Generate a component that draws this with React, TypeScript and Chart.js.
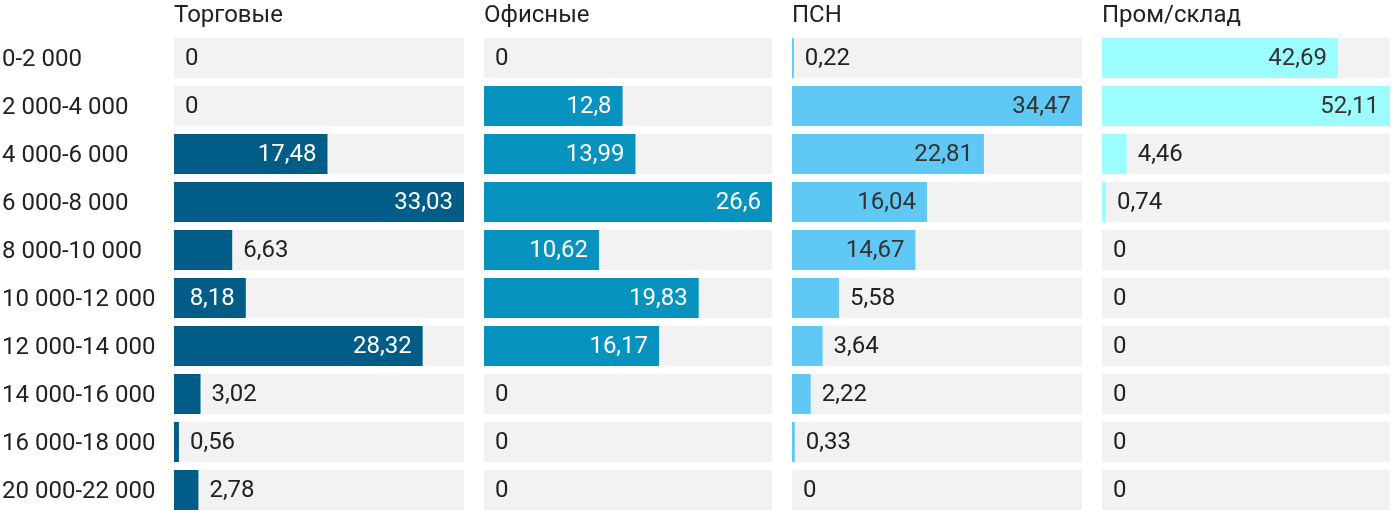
import React, { useEffect, useRef } from "react";
import { Chart, registerables } from "chart.js";

Chart.register(...registerables);

const categories = [
  "0-2 000",
  "2 000-4 000",
  "4 000-6 000",
  "6 000-8 000",
  "8 000-10 000",
  "10 000-12 000",
  "12 000-14 000",
  "14 000-16 000",
  "16 000-18 000",
  "20 000-22 000",
];

const panelTitles = ["Торговые", "Офисные", "ПСН", "Пром/склад"];

const retail = [0, 0, 17.48, 33.03, 6.63, 8.18, 28.32, 3.02, 0.56, 2.78];
const office = [0, 12.8, 13.99, 26.6, 10.62, 19.83, 16.17, 0, 0, 0];
const psn = [0.22, 34.47, 22.81, 16.04, 14.67, 5.58, 3.64, 2.22, 0.33, 0];
const industrial = [42.69, 52.11, 4.46, 0.74, 0, 0, 0, 0, 0, 0];

const panelColors = ["#015C87", "#0792BF", "#5FC8F5", "#9CFDFE"];
const insideTextColors = ["#FFFFFF", "#FFFFFF", "#333333", "#333333"];

const FONT = "Roboto, 'Noto Sans', sans-serif";
const FONT_SIZE = 24;

const valueLabels = {
  id: "valueLabels",
  afterDatasetsDraw(chart: any, _args: any, opts: any) {
    const ctx = chart.ctx;
    const meta = chart.getDatasetMeta(0);
    const data = chart.data.datasets[0].data as number[];
    const left = chart.chartArea.left;
    ctx.save();
    ctx.font = `${FONT_SIZE}px ${FONT}`;
    ctx.textBaseline = "middle";
    meta.data.forEach((bar: any, i: number) => {
      const v = data[i];
      const txt = String(v).replace(".", ",");
      const w = ctx.measureText(txt).width;
      const barW = bar.x - left;
      if (v > 0 && barW > w + 22) {
        ctx.fillStyle = opts.inside;
        ctx.textAlign = "right";
        ctx.fillText(txt, bar.x - 11, bar.y + 1);
      } else {
        ctx.fillStyle = "#222222";
        ctx.textAlign = "left";
        ctx.fillText(txt, left + Math.max(barW, 0) + 11, bar.y + 1);
      }
    });
    ctx.restore();
  },
};

type PanelProps = {
  idx: number;
  values: number[];
  left: number;
  width: number;
  showAxis: boolean;
};

function Panel({ idx, values, left, width, showAxis }: PanelProps) {
  const ref = useRef<HTMLCanvasElement | null>(null);
  useEffect(() => {
    if (!ref.current) return;
    const max = Math.max(...values);
    const chart = new Chart(ref.current, {
      type: "bar",
      data: {
        labels: categories,
        datasets: [
          {
            data: values,
            backgroundColor: panelColors[idx],
            borderWidth: 0,
            grouped: false,
            order: 0,
            categoryPercentage: 1,
            barPercentage: 40 / 48,
          } as any,
          {
            data: values.map(() => max),
            backgroundColor: "#F2F2F2",
            borderWidth: 0,
            grouped: false,
            order: 1,
            categoryPercentage: 1,
            barPercentage: 40 / 48,
          } as any,
        ],
      },
      options: {
        indexAxis: "y",
        animation: false,
        responsive: false,
        devicePixelRatio: 1,
        layout: { padding: { left: showAxis ? 2 : 0, right: 0, top: 0, bottom: 0 } },
        scales: {
          x: { display: false, min: 0, max: max },
          y: {
            display: showAxis,
            grid: { display: false },
            border: { display: false },
            ticks: {
              crossAlign: "far",
              padding: 0,
              labelOffset: 1.5,
              color: "#222222",
              font: { family: FONT, size: FONT_SIZE },
            },
            afterFit: (scale: any) => {
              if (showAxis) scale.width = 172;
              scale.paddingTop = 0;
              scale.paddingBottom = 0;
            },
          },
        },
        plugins: {
          legend: { display: false },
          tooltip: { enabled: false },
          title: {
            display: true,
            text: panelTitles[idx],
            align: "start",
            fullSize: false,
            color: "#222222",
            font: { family: FONT, size: FONT_SIZE, weight: "normal" },
            padding: { top: 1.5, bottom: 3.7 },
          },
          valueLabels: { inside: insideTextColors[idx] },
        } as any,
      },
      plugins: [valueLabels],
    });
    return () => chart.destroy();
  }, []);
  return (
    <canvas
      ref={ref}
      width={width}
      height={514}
      style={{ position: "absolute", left, top: 0, width, height: 514 }}
    />
  );
}

export default function App() {
  return (
    <div
      style={{
        position: "absolute",
        left: 0,
        top: 0,
        width: 1400,
        height: 510,
        overflow: "hidden",
        background: "#ffffff",
      }}
    >
      <Panel idx={0} values={retail} left={0} width={464} showAxis={true} />
      <Panel idx={1} values={office} left={484} width={288} showAxis={false} />
      <Panel idx={2} values={psn} left={792} width={290} showAxis={false} />
      <Panel idx={3} values={industrial} left={1102} width={288} showAxis={false} />
    </div>
  );
}
